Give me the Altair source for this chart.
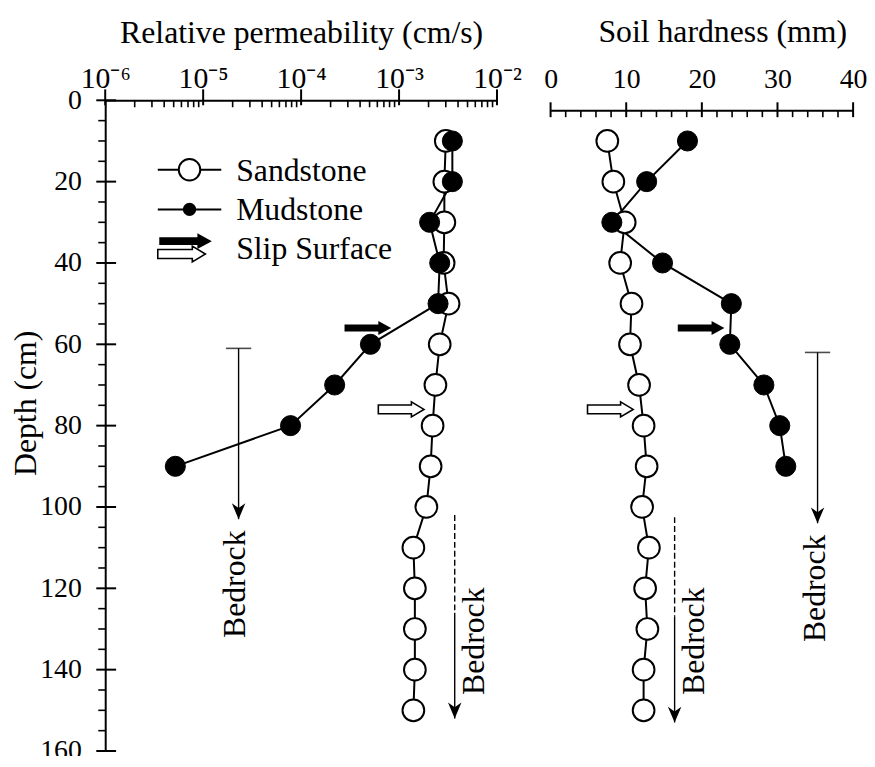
import altair as alt
import pandas as pd

# ---------------- values ----------------
depth_sand = [10, 20, 30, 40, 50, 60, 70, 80, 90, 100, 110, 120, 130, 140, 150]
sand_perm = [3.0e-3, 2.9e-3, 2.9e-3, 2.85e-3, 3.2e-3, 2.6e-3, 2.35e-3, 2.2e-3,
             2.1e-3, 1.9e-3, 1.4e-3, 1.45e-3, 1.45e-3, 1.45e-3, 1.4e-3]
sand_hard = [7.5, 8.3, 9.8, 9.2, 10.7, 10.5, 11.7, 12.3, 12.7, 12.1, 13.0,
             12.5, 12.8, 12.3, 12.3]

depth_mud = [10, 20, 30, 40, 50, 60, 70, 80, 90]
mud_perm = [3.5e-3, 3.5e-3, 2.05e-3, 2.6e-3, 2.5e-3, 5.1e-4, 2.2e-4, 7.8e-5, 5.2e-6]
mud_hard = [18.1, 12.7, 8.1, 14.8, 23.9, 23.7, 28.2, 30.3, 31.1]

# slip-surface arrows: first = mudstone (filled), second = sandstone (open)
slip_perm_x = [4.8e-4, 1.05e-3]
slip_hard_x = [19.9, 7.9]
slip_depth = [56, 76]

# bedrock annotations: first = mudstone, second = sandstone
bed_perm_x = [2.3e-5, 3.7e-3]
bed_perm_start = [61, 102]
bed_perm_dash_end = [61, 126]
bed_perm_tip = [103, 152]
bed_perm_text_x = [2.1e-5, 5.9e-3]
bed_perm_text_d = [119, 133]

bed_hard_x = [35.3, 16.4]
bed_hard_start = [62, 102.5]
bed_hard_dash_end = [62, 127]
bed_hard_tip = [104, 153]
bed_hard_text_x = [35.0, 19.0]
bed_hard_text_d = [120, 133]

bed_cap = [True, False]
bed_label = "Bedrock"

legend_labels = ["Sandstone", "Mudstone", "Slip Surface"]

# axis ticks
perm_major = [1e-6, 1e-5, 1e-4, 1e-3, 1e-2]
perm_minor = [m * 10.0 ** e for e in range(-6, -2) for m in range(2, 10)]
hard_major = [0, 10, 20, 30, 40]
hard_minor = [v for v in range(0, 41, 2) if v % 10]
depth_major = list(range(0, 161, 20))
depth_minor = [d for d in range(5, 160, 5) if d % 20]

# ---------------- styling ----------------
FONT = "Liberation Serif"
W1, W2, H = 395, 305, 656
FILLED_ARROW = "M-1,-0.15L0.45,-0.15L0.45,-0.3L1,0L0.45,0.3L0.45,0.15L-1,0.15Z"
OPEN_ARROW = "M-1,-0.19L0.45,-0.19L0.45,-0.33L1,0L0.45,0.33L0.45,0.19L-1,0.19Z"
HEAD_DOWN = "M0,0L-0.85,-2L0,-1.4L0.85,-2Z"

PERM_LABELS = ("datum.value < 5e-6 ? '10\u207b\u2076' : datum.value < 5e-5 ? '10\u207b\u2075' : "
               "datum.value < 5e-4 ? '10\u207b\u2074' : datum.value < 5e-3 ? '10\u207b\u00b3' : '10\u207b\u00b2'")

depth_scale = alt.Scale(domain=[0, 160], reverse=True, nice=False, zero=False)
perm_scale = alt.Scale(type="log", domain=[1e-6, 1e-2], nice=False)
hard_scale = alt.Scale(domain=[0, 40], nice=False, zero=False)

depth_axis = alt.Axis(values=depth_major, ticks=False, tickSize=0, labelPadding=24,
                      labelFontSize=28, title="Depth (cm)", titleFontSize=32,
                      titlePadding=-3, titleY=305, labelFlush=False, labelOverlap=False,
                      grid=False, domainWidth=2)
perm_axis = alt.Axis(orient="top", values=perm_major, labelExpr=PERM_LABELS, ticks=False,
                     tickSize=0, labelPadding=7, labelFontSize=30,
                     title="Relative permeability (cm/s)", titleFontSize=32, titlePadding=14,
                     labelFlush=False, labelOverlap=False, grid=False, domainWidth=2)
hard_axis = alt.Axis(orient="top", values=hard_major, offset=-10, format="d", ticks=False,
                     tickSize=0, labelPadding=17, labelFontSize=28,
                     title="Soil hardness (mm)", titleFontSize=32, titlePadding=17, titleX=173,
                     labelFlush=False, labelOverlap=False, grid=False, domainWidth=2)


def Y(field, show):
    return alt.Y(f"{field}:Q", scale=depth_scale, axis=depth_axis if show else None)


def panel(xscale, xaxis, show_y, major, minor, major_y, minor_y,
          sand_x, mud_x, slip_x, bed_x, bed_start, bed_dash_end, bed_tip,
          bed_text_x, bed_text_d, width, legend):
    def X(field):
        return alt.X(f"{field}:Q", scale=xscale, axis=xaxis)

    layers = []
    # x-axis ticks
    layers.append(alt.Chart(pd.DataFrame({"v": major})).mark_rule(color="black", strokeWidth=2)
                  .encode(x=X("v"), y=alt.value(major_y[0]), y2=alt.value(major_y[1])))
    layers.append(alt.Chart(pd.DataFrame({"v": minor})).mark_rule(color="black", strokeWidth=1.6)
                  .encode(x=X("v"), y=alt.value(minor_y[0]), y2=alt.value(minor_y[1])))
    if show_y:
        layers.append(alt.Chart(pd.DataFrame({"d": depth_major})).mark_rule(color="black", strokeWidth=2)
                      .encode(y=Y("d", True), x=alt.value(-9), x2=alt.value(11)))
        layers.append(alt.Chart(pd.DataFrame({"d": depth_minor})).mark_rule(color="black", strokeWidth=1.6)
                      .encode(y=Y("d", True), x=alt.value(-7), x2=alt.value(0)))

    bed = pd.DataFrame({"x": bed_x, "start": bed_start, "dash_end": bed_dash_end,
                        "tip": bed_tip, "cap": bed_cap, "tx": bed_text_x, "td": bed_text_d})
    solid = bed.copy()
    dashed = bed[bed["dash_end"] > bed["start"]]
    caps = bed[bed["cap"]]
    layers.append(alt.Chart(solid).mark_rule(color="black", strokeWidth=1.4)
                  .encode(x=X("x"), y=Y("dash_end", show_y), y2="tip:Q"))
    layers.append(alt.Chart(dashed).mark_rule(color="black", strokeWidth=1.4, strokeDash=[6, 3])
                  .encode(x=X("x"), y=Y("start", show_y), y2="dash_end:Q"))
    layers.append(alt.Chart(caps).mark_point(shape="stroke", size=650, color="black", strokeWidth=1.6)
                  .encode(x=X("x"), y=Y("start", show_y)))
    layers.append(alt.Chart(bed).mark_point(shape=HEAD_DOWN, size=256, filled=True, color="black", opacity=1)
                  .encode(x=X("x"), y=Y("tip", show_y)))
    layers.append(alt.Chart(bed).mark_text(text=bed_label, angle=270, font=FONT, fontSize=32,
                                           align="center", baseline="middle", color="black")
                  .encode(x=X("tx"), y=Y("td", show_y)))

    slip = pd.DataFrame({"x": slip_x, "d": slip_depth})
    layers.append(alt.Chart(slip.iloc[[0]]).mark_point(shape=FILLED_ARROW, size=2209, filled=True,
                                                       color="black", opacity=1)
                  .encode(x=X("x"), y=Y("d", show_y)))
    layers.append(alt.Chart(slip.iloc[[1]]).mark_point(shape=OPEN_ARROW, size=2116, filled=True,
                                                       fill="white", stroke="black", strokeWidth=1.6,
                                                       opacity=1)
                  .encode(x=X("x"), y=Y("d", show_y)))

    sand = pd.DataFrame({"depth": depth_sand, "x": sand_x})
    mud = pd.DataFrame({"depth": depth_mud, "x": mud_x})
    layers.append(alt.Chart(sand).mark_line(color="black", strokeWidth=2)
                  .encode(x=X("x"), y=Y("depth", show_y), order="depth:Q"))
    layers.append(alt.Chart(mud).mark_line(color="black", strokeWidth=2)
                  .encode(x=X("x"), y=Y("depth", show_y), order="depth:Q"))
    layers.append(alt.Chart(sand).mark_point(shape="circle", size=480, filled=True, fill="white",
                                             stroke="black", strokeWidth=2, opacity=1)
                  .encode(x=X("x"), y=Y("depth", show_y)))
    layers.append(alt.Chart(mud).mark_point(shape="circle", size=410, filled=True, fill="black",
                                            stroke="black", strokeWidth=1, opacity=1)
                  .encode(x=X("x"), y=Y("depth", show_y)))

    if legend:
        one = pd.DataFrame({"k": [0]})
        for yy in (70, 110):
            layers.append(alt.Chart(one).mark_rule(color="black", strokeWidth=2)
                          .encode(x=alt.value(53), x2=alt.value(117), y=alt.value(yy)))
        layers.append(alt.Chart(one).mark_point(shape="circle", size=470, filled=True, fill="white",
                                                stroke="black", strokeWidth=2, opacity=1)
                      .encode(x=alt.value(85), y=alt.value(70)))
        layers.append(alt.Chart(one).mark_point(shape="circle", size=180, filled=True, fill="black",
                                                opacity=1)
                      .encode(x=alt.value(85), y=alt.value(110)))
        layers.append(alt.Chart(one).mark_point(shape=FILLED_ARROW, size=2809, filled=True,
                                                color="black", opacity=1)
                      .encode(x=alt.value(81), y=alt.value(142)))
        layers.append(alt.Chart(one).mark_point(shape=OPEN_ARROW, size=2304, filled=True,
                                                fill="white", stroke="black", strokeWidth=1.6, opacity=1)
                      .encode(x=alt.value(77), y=alt.value(155)))
        for lab, yy in zip(legend_labels, (71, 111, 150)):
            layers.append(alt.Chart(one).mark_text(text=lab, font=FONT, fontSize=32, align="left",
                                                   baseline="middle", color="black")
                          .encode(x=alt.value(132), y=alt.value(yy)))

    return alt.layer(*layers).properties(width=width, height=H)


left = panel(perm_scale, perm_axis, True, perm_major, perm_minor, (-11, 5), (0, 7),
             sand_perm, mud_perm, slip_perm_x, bed_perm_x, bed_perm_start, bed_perm_dash_end,
             bed_perm_tip, bed_perm_text_x, bed_perm_text_d, W1, True)
right = panel(hard_scale, hard_axis, False, hard_major, hard_minor, (2, 17), (10, 17),
              sand_hard, mud_hard, slip_hard_x, bed_hard_x, bed_hard_start, bed_hard_dash_end,
              bed_hard_tip, bed_hard_text_x, bed_hard_text_d, W2, False)

chart = (
    alt.hconcat(left, right, spacing=54, bounds="flush")
    .properties(padding={"left": 1, "top": 4, "right": -1, "bottom": -13}, background="white")
    .configure_view(stroke="transparent")
    .configure_axis(labelFont=FONT, titleFont=FONT, labelColor="black", titleColor="black",
                    domainColor="black", titleFontWeight="normal")
)

chart.save("out.html", embed_options={"renderer": "svg", "actions": False})
